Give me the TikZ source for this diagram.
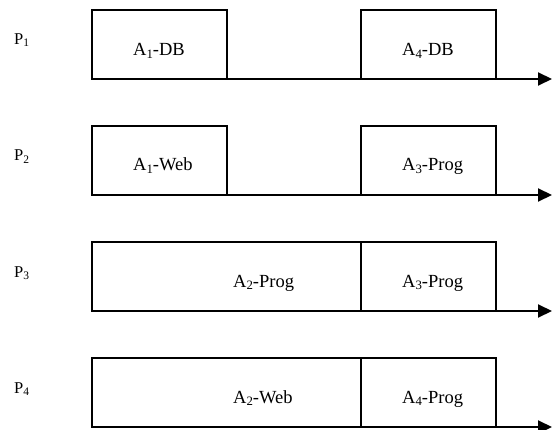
\documentclass[tikz,border=0pt]{standalone}
\usepackage{fontspec}
\setmainfont{Liberation Serif}
\usetikzlibrary{arrows.meta}
\newcommand{\asub}[1]{\raisebox{-2.3pt}{\fontsize{12.8}{13}\selectfont #1}}
\newcommand{\psub}[1]{\raisebox{-2pt}{\fontsize{11.5}{12}\selectfont #1}}
\begin{document}
\begin{tikzpicture}[x=1pt,y=-1pt,
  box/.style={draw, line width=1.3pt, minimum height=69pt, anchor=north west, inner sep=0pt, outer sep=0pt},
  short/.style={box, minimum width=135pt},
  long/.style={box, minimum width=269pt},
  lbl/.style={anchor=base west, inner sep=0pt, font=\fontsize{18.5}{22}\selectfont},
  plbl/.style={anchor=base west, inner sep=0pt, font=\fontsize{16.5}{18}\selectfont},
  axis/.style={line width=2pt, -{Triangle[length=14pt,width=13pt]}}]
\useasboundingbox (0,0) rectangle (553,430);
% row 1
\node[short] (b11) at (92,10) {};
\node[short] (b12) at (361,10) {};
\node[lbl] (t11) at (133,56) {A\asub{1}-DB};
\node[lbl] (t12) at (402,56) {A\asub{4}-DB};
\node[plbl] (p1) at (14,45) {P\psub{1}};
\coordinate (e1) at (552,79);
\draw[axis] (b11.south west) -- (e1);
% row 2
\node[short] (b21) at (92,126) {};
\node[short] (b22) at (361,126) {};
\node[lbl] (t21) at (133,171) {A\asub{1}-Web};
\node[lbl] (t22) at (402,171) {A\asub{3}-Prog};
\node[plbl] (p2) at (14,161) {P\psub{2}};
\coordinate (e2) at (552,195);
\draw[axis] (b21.south west) -- (e2);
% row 3
\node[long] (b31) at (92,242) {};
\node[short] (b32) at (361,242) {};
\node[lbl] (t31) at (233,287) {A\asub{2}-Prog};
\node[lbl] (t32) at (402,287) {A\asub{3}-Prog};
\node[plbl] (p3) at (14,277) {P\psub{3}};
\coordinate (e3) at (552,311);
\draw[axis] (b31.south west) -- (e3);
% row 4
\node[long] (b41) at (92,358) {};
\node[short] (b42) at (361,358) {};
\node[lbl] (t41) at (233,403) {A\asub{2}-Web};
\node[lbl] (t42) at (402,403) {A\asub{4}-Prog};
\node[plbl] (p4) at (14,393) {P\psub{4}};
\coordinate (e4) at (552,427);
\draw[axis] (b41.south west) -- (e4);
\end{tikzpicture}
\end{document}
